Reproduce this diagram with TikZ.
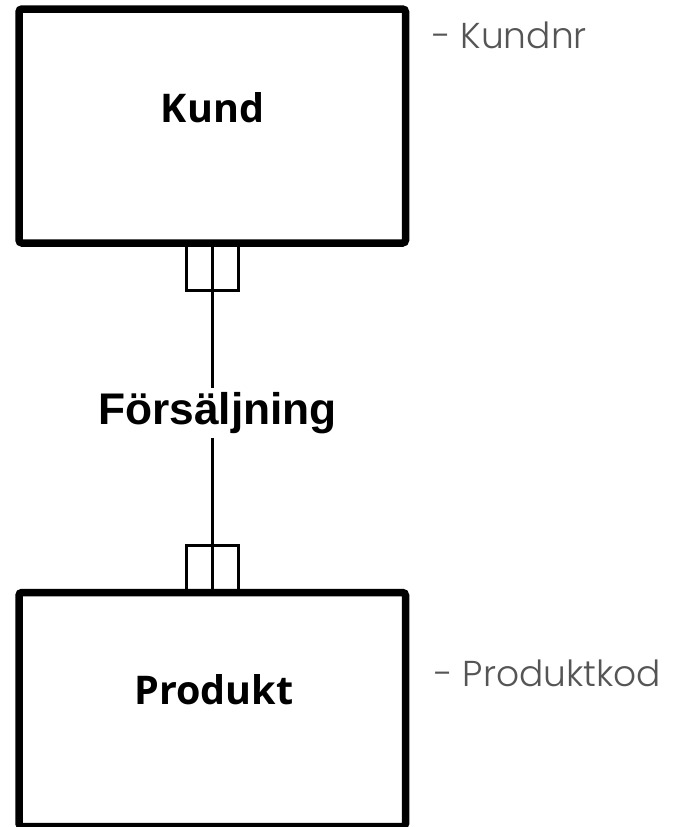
\documentclass[tikz,border=0pt]{standalone}
\usepackage{fontspec}
\newfontfamily\entfont{Open Sans}[UprightFont=* Bold]
\newfontfamily\relfont{Liberation Sans}[UprightFont=* Bold]
\newfontfamily\attfont{Poppins Light}
\definecolor{attgray}{HTML}{555555}
\begin{document}
\begin{tikzpicture}[x=1pt,y=1pt,
  entity/.style={draw=black, line width=7.5pt, rounded corners=3pt, outer sep=0pt, inner sep=0pt,
                 minimum width=386.5pt, minimum height=234pt},
  etitle/.style={font=\entfont\fontsize{39.5}{46}\selectfont, anchor=base, inner sep=0pt},
  rtitle/.style={font=\relfont\fontsize{44.3}{52}\selectfont, fill=white, inner sep=0pt,
                 minimum height=50pt, anchor=base},
  attr/.style={font=\attfont\fontsize{36}{44}\selectfont, text=attgray, anchor=base west, inner sep=0pt},
  conn/.style={line width=3.5pt},
  crowbox/.style={line width=3pt}
]
\useasboundingbox (0,0) rectangle (672,-827);
% entities
\node[entity] (kund) at (212.25,-126) {};
\node[entity] (produkt) at (212.25,-709.5) {};
\node[etitle] (kundlbl) at (212.5,-122) {Kund};
\node[etitle] (produktlbl) at (214,-704) {Produkt};
% attributes
\node[attr] (kundnr) at (432,-48) {- Kundnr};
\node[attr] (produktkod) at (434,-686) {- Produktkod};
% connector
\draw[conn] (kund.south) -- (produkt.north);
\draw[crowbox] ([xshift=-25.75pt]kund.south) -- ++(0,-47) -| ([xshift=26.25pt]kund.south);
\draw[crowbox] ([xshift=-25.75pt]produkt.north) -- ++(0,47.5) -| ([xshift=26.25pt]produkt.north);
\node[rtitle] (rel) at (217.5,-424.5) {Försäljning};
\end{tikzpicture}
\end{document}
